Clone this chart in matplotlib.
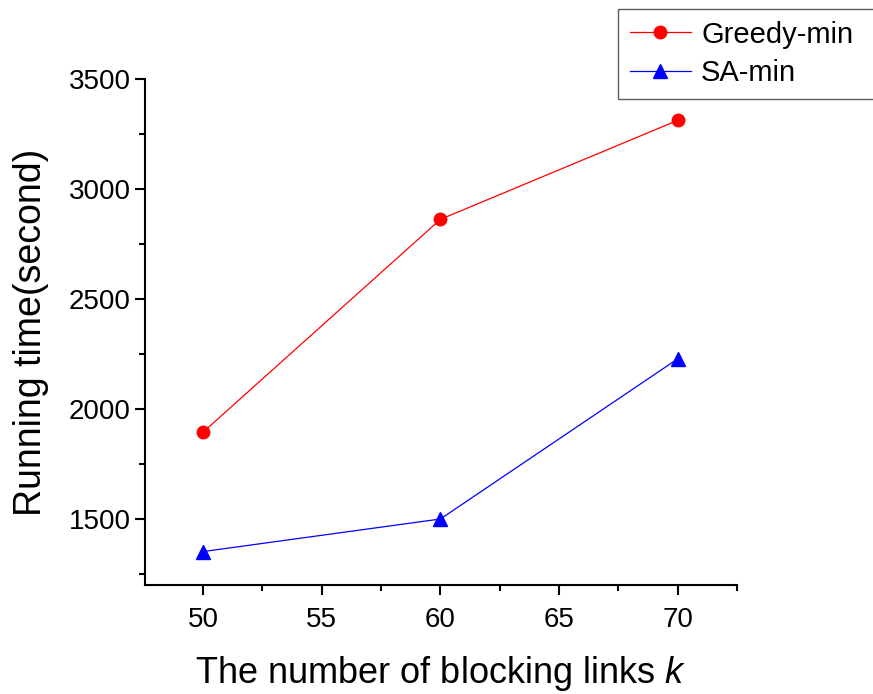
import matplotlib.pyplot as plt
from matplotlib.ticker import MultipleLocator

plt.rcParams['font.family'] = ['Liberation Sans', 'DejaVu Sans']
plt.rcParams['mathtext.fontset'] = 'custom'
plt.rcParams['mathtext.rm'] = 'Liberation Sans'
plt.rcParams['mathtext.it'] = 'Liberation Sans:italic'

# data
k = [50, 60, 70]
greedy_min = [1895, 2862, 3312]
sa_min = [1352, 1500, 2228]

fig = plt.figure(figsize=(8.73, 6.94), dpi=100)
ax = fig.add_axes([145 / 873, 1 - 585 / 694, (737 - 145) / 873, (585 - 79) / 694])

ax.plot(k, greedy_min, color='red', lw=0.9, marker='o', markersize=9, label='Greedy-min')
ax.plot(k, sa_min, color='blue', lw=0.9, marker='^', markersize=10, label='SA-min')

ax.set_xlim(47.55, 72.5)
ax.set_ylim(1200, 3500)
ax.xaxis.set_major_locator(MultipleLocator(5))
ax.xaxis.set_minor_locator(MultipleLocator(2.5))
ax.yaxis.set_major_locator(MultipleLocator(500))
ax.yaxis.set_minor_locator(MultipleLocator(250))

ax.spines['top'].set_visible(False)
ax.spines['right'].set_visible(False)
for s in ('left', 'bottom'):
    ax.spines[s].set_linewidth(1.5)
ax.tick_params(which='major', direction='out', length=7, width=1.5, labelsize=20)
ax.tick_params(axis='x', which='major', pad=9)
ax.tick_params(which='minor', direction='out', length=4, width=1.5)

ax.set_xlabel('The number of blocking links $k$', fontsize=26, labelpad=15)
ax.set_ylabel('Running time(second)', fontsize=27, labelpad=14)

leg = fig.legend(loc='upper left', bbox_to_anchor=(618 / 873, 1 - 9 / 694, 270 / 873, 0),
                 mode='expand', fontsize=21, frameon=True, fancybox=False,
                 edgecolor='#333333', handlelength=2.1, borderpad=0.4,
                 labelspacing=0.35, handletextpad=0.35, borderaxespad=0)
leg.get_frame().set_linewidth(1.0)

fig.savefig('out.png', dpi=100)
